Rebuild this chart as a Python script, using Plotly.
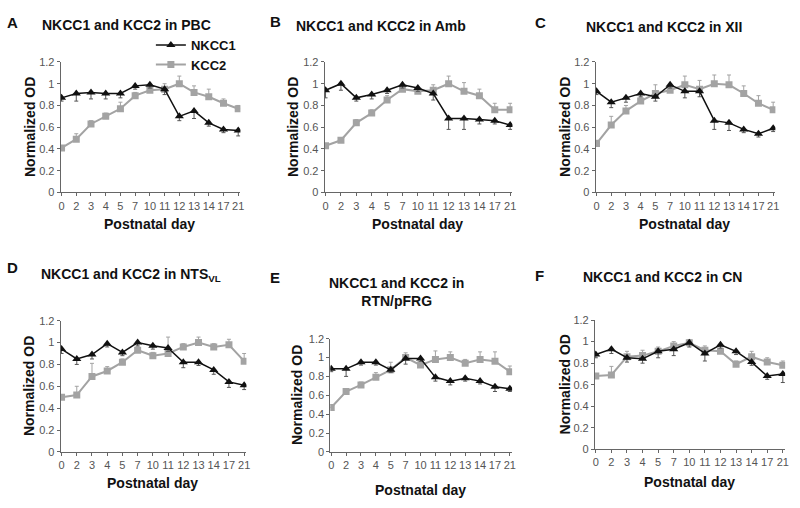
import plotly.graph_objects as go

W, H = 800, 508

days = ["0", "2", "3", "4", "5", "7", "10", "11", "12", "13", "14", "17", "21"]

# Panel A - PBC
nkcc1_A = [0.87, 0.91, 0.92, 0.91, 0.91, 0.98, 0.99, 0.95, 0.70, 0.75, 0.64, 0.58, 0.57]
kcc2_A = [0.41, 0.49, 0.63, 0.70, 0.77, 0.89, 0.94, 0.95, 1.00, 0.92, 0.88, 0.82, 0.77]
nkcc1_err_A = [0.03, 0.07, 0.06, 0.05, 0.04, 0.03, 0.03, 0.05, 0.04, 0.07, 0.03, 0.03, 0.05]
kcc2_err_A = [0.02, 0.05, 0.03, 0.03, 0.06, 0.03, 0.03, 0.05, 0.07, 0.06, 0.07, 0.04, 0.03]

# Panel B - Amb
nkcc1_B = [0.94, 1.00, 0.87, 0.90, 0.94, 0.99, 0.96, 0.91, 0.68, 0.68, 0.67, 0.66, 0.62]
kcc2_B = [0.43, 0.48, 0.64, 0.73, 0.85, 0.95, 0.93, 0.94, 1.00, 0.93, 0.89, 0.76, 0.76]
nkcc1_err_B = [0.07, 0.06, 0.03, 0.04, 0.03, 0.03, 0.03, 0.06, 0.10, 0.10, 0.04, 0.03, 0.04]
kcc2_err_B = [0.02, 0.02, 0.03, 0.03, 0.04, 0.03, 0.04, 0.05, 0.07, 0.08, 0.06, 0.06, 0.06]

# Panel C - XII
nkcc1_C = [0.93, 0.83, 0.87, 0.91, 0.88, 0.99, 0.93, 0.93, 0.66, 0.64, 0.58, 0.54, 0.59]
kcc2_C = [0.45, 0.62, 0.75, 0.84, 0.91, 0.94, 0.99, 0.95, 1.00, 0.99, 0.91, 0.82, 0.76]
nkcc1_err_C = [0.03, 0.05, 0.04, 0.03, 0.04, 0.03, 0.06, 0.05, 0.08, 0.07, 0.03, 0.03, 0.03]
kcc2_err_C = [0.03, 0.08, 0.05, 0.03, 0.08, 0.04, 0.08, 0.08, 0.08, 0.09, 0.07, 0.07, 0.07]

# Panel D - NTS VL
nkcc1_D = [0.94, 0.85, 0.89, 0.99, 0.91, 1.00, 0.97, 0.95, 0.82, 0.82, 0.75, 0.64, 0.61]
kcc2_D = [0.50, 0.52, 0.69, 0.74, 0.82, 0.93, 0.88, 0.90, 0.96, 1.00, 0.96, 0.98, 0.83]
nkcc1_err_D = [0.04, 0.05, 0.04, 0.03, 0.03, 0.03, 0.03, 0.03, 0.05, 0.03, 0.04, 0.05, 0.04]
kcc2_err_D = [0.02, 0.08, 0.12, 0.04, 0.03, 0.03, 0.03, 0.15, 0.03, 0.05, 0.03, 0.05, 0.07]

# Panel E - RTN/pFRG
nkcc1_E = [0.88, 0.88, 0.95, 0.95, 0.87, 0.99, 0.99, 0.79, 0.75, 0.78, 0.75, 0.69, 0.67]
kcc2_E = [0.47, 0.64, 0.71, 0.79, 0.87, 1.00, 0.92, 0.98, 1.00, 0.94, 0.98, 0.96, 0.85]
nkcc1_err_E = [0.03, 0.08, 0.03, 0.03, 0.03, 0.06, 0.03, 0.04, 0.04, 0.03, 0.03, 0.05, 0.03]
kcc2_err_E = [0.03, 0.03, 0.03, 0.05, 0.08, 0.05, 0.03, 0.09, 0.06, 0.04, 0.08, 0.10, 0.06]

# Panel F - CN
nkcc1_F = [0.88, 0.93, 0.85, 0.84, 0.91, 0.93, 0.99, 0.89, 0.97, 0.91, 0.81, 0.68, 0.70]
kcc2_F = [0.68, 0.69, 0.86, 0.87, 0.91, 0.96, 0.99, 0.92, 0.91, 0.79, 0.86, 0.81, 0.78]
nkcc1_err_F = [0.03, 0.04, 0.04, 0.04, 0.06, 0.06, 0.04, 0.07, 0.03, 0.03, 0.03, 0.03, 0.08]
kcc2_err_F = [0.02, 0.08, 0.05, 0.05, 0.04, 0.04, 0.03, 0.04, 0.05, 0.03, 0.05, 0.04, 0.04]

panel_letters = ["A", "B", "C", "D", "E", "F"]
panel_titles = [
    "NKCC1 and KCC2 in PBC",
    "NKCC1 and KCC2 in Amb",
    "NKCC1 and KCC2 in XII",
    "NKCC1 and KCC2 in NTS<sub>VL</sub>",
    "NKCC1 and KCC2 in<br>RTN/pFRG",
    "NKCC1 and KCC2 in CN",
]
nkcc1_all = [nkcc1_A, nkcc1_B, nkcc1_C, nkcc1_D, nkcc1_E, nkcc1_F]
kcc2_all = [kcc2_A, kcc2_B, kcc2_C, kcc2_D, kcc2_E, kcc2_F]
nkcc1_err_all = [nkcc1_err_A, nkcc1_err_B, nkcc1_err_C, nkcc1_err_D, nkcc1_err_E, nkcc1_err_F]
kcc2_err_all = [kcc2_err_A, kcc2_err_B, kcc2_err_C, kcc2_err_D, kcc2_err_E, kcc2_err_F]

y_ticks = [0, 0.2, 0.4, 0.6, 0.8, 1.0, 1.2]
y_tick_text = ["0", "0.2", "0.4", "0.6", "0.8", "1", "1.2"]

# layout geometry in pixels: (x of first category, x of last category, y of 0, y of 1.2)
geom = [
    (60, 238, 191, 57.3),
    (326, 512, 191, 57.3),
    (599, 777, 191, 57.3),
    (60, 244, 456.7, 322.3),
    (331.7, 511.7, 456.7, 340.7),
    (598.3, 786.7, 454, 321.7),
]
# letter positions (left x, center y), title centers, y-title x, x-title y
letter_pos = [(3, 17), (268, 16), (535, 17), (3, 268), (268, 278), (535, 276)]
title_pos = [(125, 19), (382, 20), (667, 21), (130, 276), (397, 293), (665, 278)]
ytitle_x = [28, 293, 567, 28, 298, 567]
xtitle_y = [223, 223, 223, 489, 496, 488]

GREY = "#a3a3a3"
BLACK = "#111111"
FONT = "Liberation Sans, Arial, sans-serif"

fig = go.Figure()
annotations = []
x_idx = list(range(len(days)))

for i in range(6):
    x0, x12, y0, y12 = geom[i]
    u = (x12 - x0) / 12.0
    left = x0 - 0.06 * u
    right = x12 + 0.15 * u
    dom_x = [left / W, right / W]
    dom_y = [1 - y0 / H, 1 - y12 / H]
    n = "" if i == 0 else str(i + 1)
    xa = "x" + n
    ya = "y" + n
    fig.add_trace(go.Scatter(
        x=x_idx, y=kcc2_all[i], xaxis=xa, yaxis=ya, mode="lines+markers",
        name="<b>KCC2</b>", showlegend=(i == 0), legend="legend2",
        line=dict(color=GREY, width=2),
        marker=dict(symbol="square", size=7, color=GREY),
        error_y=dict(type="data", array=kcc2_err_all[i], arrayminus=[0] * 13,
                     symmetric=False, color=GREY, thickness=1, width=2),
    ))
    fig.add_trace(go.Scatter(
        x=x_idx, y=nkcc1_all[i], xaxis=xa, yaxis=ya, mode="lines+markers",
        name="<b>NKCC1</b>", showlegend=(i == 0), legend="legend",
        line=dict(color=BLACK, width=1.5),
        marker=dict(symbol="triangle-up", size=8, color=BLACK),
        error_y=dict(type="data", array=[0] * 13, arrayminus=nkcc1_err_all[i],
                     symmetric=False, color="#555555", thickness=1, width=2),
    ))
    axis_common = dict(showline=True, linecolor="#666666", linewidth=1, ticks="outside",
                       tickcolor="#666666", ticklen=3, showgrid=False, zeroline=False,
                       tickfont=dict(family=FONT, size=11, color="#555555"))
    fig.update_layout(**{
        ("xaxis" + n): dict(domain=dom_x, range=[-0.06, 12.15], tickmode="array",
                            tickvals=x_idx, ticktext=days, anchor=ya, **axis_common),
        ("yaxis" + n): dict(domain=dom_y, range=[0, 1.2], tickmode="array",
                            tickvals=y_ticks, ticktext=y_tick_text, anchor=xa, **axis_common),
    })
    lx, ly = letter_pos[i]
    annotations.append(dict(text="<b>" + panel_letters[i] + "</b>", x=lx / W, y=1 - ly / H,
                            xref="paper", yref="paper", xanchor="left", yanchor="middle",
                            showarrow=False, font=dict(family=FONT, size=15, color="#111111")))
    tx, ty = title_pos[i]
    annotations.append(dict(text="<b>" + panel_titles[i] + "</b>", x=tx / W, y=1 - ty / H,
                            xref="paper", yref="paper", xanchor="center", yanchor="middle",
                            showarrow=False, font=dict(family=FONT, size=14, color="#111111")))
    annotations.append(dict(text="<b>Normalized OD</b>", x=ytitle_x[i] / W,
                            y=1 - ((y0 + y12) / 2) / H, xref="paper", yref="paper",
                            xanchor="center", yanchor="middle", textangle=-90,
                            showarrow=False, font=dict(family=FONT, size=14, color="#111111")))
    annotations.append(dict(text="<b>Postnatal day</b>", x=((x0 + x12) / 2) / W,
                            y=1 - xtitle_y[i] / H, xref="paper", yref="paper",
                            xanchor="center", yanchor="middle",
                            showarrow=False, font=dict(family=FONT, size=14, color="#111111")))

legend_common = dict(bgcolor="rgba(0,0,0,0)", borderwidth=0, itemwidth=30,
                     font=dict(family=FONT, size=13, color="#111111"),
                     xanchor="left", yanchor="middle", xref="paper", yref="paper")
fig.update_layout(
    width=W, height=H,
    margin=dict(l=0, r=0, t=0, b=0),
    paper_bgcolor="white", plot_bgcolor="white",
    showlegend=True,
    legend=dict(x=150 / W, y=1 - 40 / H, **legend_common),
    legend2=dict(x=150 / W, y=1 - 60 / H, **legend_common),
    annotations=annotations,
)

fig.write_html("out.html", config={"displayModeBar": False},
               post_script="document.body.style.margin='0px';")
